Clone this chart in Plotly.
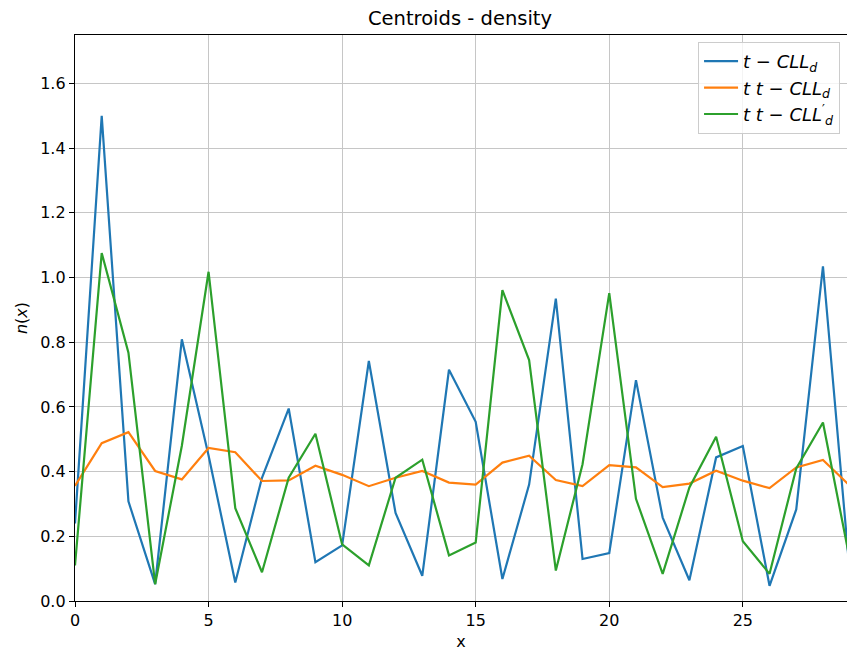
import plotly.graph_objects as go

# Centroid positions along the lattice
x_vals = list(range(30))

# Density profiles n(x) for the three models
t_cll_d = [0.24, 1.50, 0.308, 0.052, 0.809, 0.45, 0.057, 0.381, 0.595, 0.12,
           0.172, 0.742, 0.272, 0.078, 0.715, 0.554, 0.068, 0.36, 0.935, 0.13,
           0.148, 0.683, 0.258, 0.064, 0.444, 0.479, 0.047, 0.283, 1.035, 0.09]
tt_cll_d = [0.356, 0.488, 0.522, 0.402, 0.376, 0.473, 0.46, 0.371, 0.373, 0.418,
            0.39, 0.355, 0.381, 0.402, 0.366, 0.36, 0.428, 0.449, 0.374, 0.355,
            0.42, 0.413, 0.352, 0.363, 0.403, 0.372, 0.349, 0.413, 0.436, 0.357]
tt_cll_d_prime = [0.11, 1.076, 0.768, 0.052, 0.48, 1.018, 0.287, 0.089, 0.381, 0.517,
                  0.175, 0.11, 0.381, 0.437, 0.141, 0.181, 0.961, 0.745, 0.094, 0.423,
                  0.952, 0.316, 0.084, 0.351, 0.508, 0.185, 0.084, 0.41, 0.552, 0.13]

series_names = [
    "<i>t</i> − <i>CLL</i><sub><i>d</i></sub>",
    "<i>t t</i> − <i>CLL</i><sub><i>d</i></sub>",
    "<i>t t</i> − <i>CLL</i><sup>′</sup><sub><i>d</i></sub>",
]
series_values = [t_cll_d, tt_cll_d, tt_cll_d_prime]
colors = ["#1f77b4", "#ff7f0e", "#2ca02c"]

y_ticks = [0.0, 0.2, 0.4, 0.6, 0.8, 1.0, 1.2, 1.4, 1.6]
x_ticks = [0, 5, 10, 15, 20, 25]

fig = go.Figure()
for name, vals, col in zip(series_names, series_values, colors):
    fig.add_trace(go.Scatter(x=x_vals, y=vals, mode="lines", name=name,
                             line=dict(color=col, width=2.2)))

FONT = "DejaVu Sans"
axis_common = dict(
    showline=True, linecolor="black", linewidth=1.3, mirror=True,
    ticks="outside", ticklen=5, tickwidth=1.3, tickcolor="black",
    showgrid=True, gridcolor="#c6c6c6", gridwidth=1,
    zeroline=False, tickfont=dict(family=FONT, size=16, color="black"),
)

fig.update_layout(
    width=847, height=656,
    margin=dict(l=75, r=0, t=35, b=55),
    paper_bgcolor="white", plot_bgcolor="white",
    font=dict(family=FONT, size=16, color="black"),
    title=dict(text="Centroids - density", x=0.5431, xanchor="center",
               y=1 - 18 / 656, yanchor="middle",
               font=dict(family=FONT, size=19.5, color="black")),
    xaxis=dict(range=[0, 28.9], tickvals=x_ticks,
               title=dict(text="x", standoff=6,
                          font=dict(family=FONT, size=16, color="black")),
               **axis_common),
    yaxis=dict(range=[0, 1.75], tickvals=y_ticks, tickformat=".1f",
               title=dict(text="<i>n</i>(<i>x</i>)", standoff=8,
                          font=dict(family=FONT, size=16, color="black")),
               **axis_common),
    legend=dict(x=0.991, y=0.9876, xanchor="right", yanchor="top",
                bgcolor="rgba(255,255,255,0.8)", bordercolor="#cccccc",
                borderwidth=1, font=dict(family=FONT, size=18, color="black"),
                tracegroupgap=0, itemwidth=34),
    showlegend=True,
)

fig.write_html("out.html")
